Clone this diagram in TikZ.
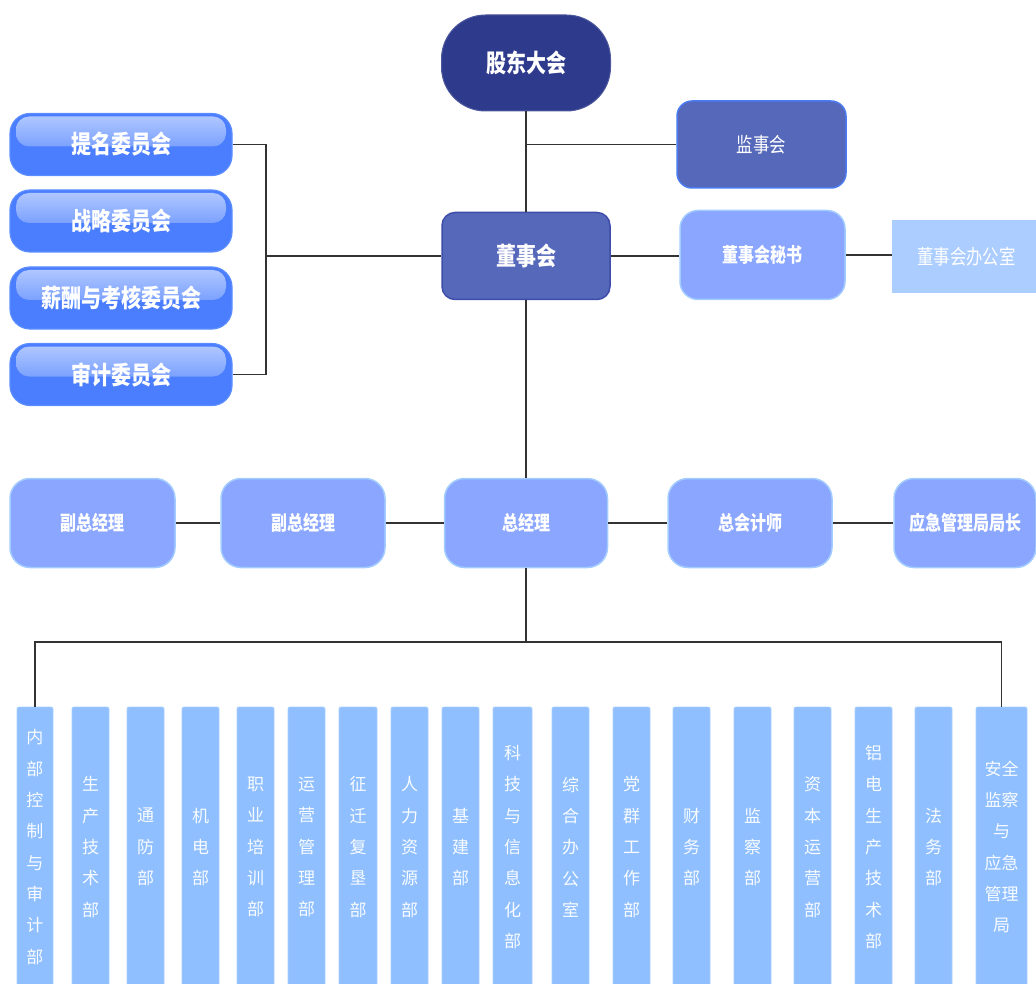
\documentclass[tikz,border=0pt]{standalone}
\usepackage{fontspec}
\newfontfamily\cjk[FakeStretch=0.8]{Noto Sans CJK SC}
\newfontfamily\cjkv{Noto Sans CJK SC}
\definecolor{navy}{HTML}{2E3A8C}
\definecolor{board}{HTML}{5568BA}
\definecolor{boardline}{HTML}{3E4DAA}
\definecolor{supline}{HTML}{4A7BF0}
\definecolor{cmt}{HTML}{4A7EFF}
\definecolor{cmtline}{HTML}{5C8DFF}
\definecolor{glosshi}{HTML}{B4CAFF}
\definecolor{mgr}{HTML}{8AA6FF}
\definecolor{mgrline}{HTML}{A3CCFF}
\definecolor{office}{HTML}{ABCDFF}
\definecolor{dept}{HTML}{8FBFFF}
\definecolor{deptline}{HTML}{A8CFFF}
\definecolor{wire}{HTML}{333333}
\tikzset{
  box/.style = {rectangle, inner sep=0pt, text=white, align=center},
  bigtext/.style = {font=\cjk\bfseries\fontsize{25}{28}\selectfont},
  midtext/.style = {font=\cjk\bfseries\fontsize{20}{24}\selectfont},
  plaintext/.style = {font=\cjk\fontsize{20.5}{24}\selectfont},
  cmtbox/.style = {box, bigtext, fill=cmt, draw=cmtline, line width=1.2pt,
    rounded corners=20pt, minimum width=222pt, minimum height=62pt,
    path picture={\shade[top color=glosshi, bottom color=cmt, rounded corners=13pt]
      ([xshift=6pt,yshift=-3pt]path picture bounding box.north west) rectangle
      ([xshift=-6pt,yshift=-2pt]path picture bounding box.east);}},
  mgrbox/.style = {box, midtext, fill=mgr, draw=mgrline, line width=1.5pt,
    rounded corners=20pt, minimum height=89pt},
  deptbox/.style = {box, fill=dept, draw=deptline, line width=0.8pt,
    rounded corners=2pt, minimum height=280pt, text=white!95!dept,
    font=\cjkv\fontsize{17}{31.3}\selectfont},
  wireline/.style = {draw=wire, line width=1.3pt},
}

\begin{document}
\begin{tikzpicture}[x=1pt, y=-1pt]
    \useasboundingbox (0, 0) rectangle (1036, 984);
    % shareholders, supervisors, board
    \node[box, bigtext, fill=navy, draw=navy!85!white, line width=1pt, rounded corners=44pt,
      minimum width=169pt, minimum height=96pt] (gdh) at (526, 63) {股东大会};
    \node[box, plaintext, fill=board, draw=supline, line width=1.5pt, rounded corners=15pt,
      minimum width=169pt, minimum height=87pt] (jsh) at (761.5, 144.5) {监事会};
    \node[box, bigtext, fill=board, draw=boardline, line width=1.5pt, rounded corners=13pt,
      minimum width=168pt, minimum height=87pt] (dsh) at (526, 256) {董事会};
    \node[box, midtext, fill=mgr, draw=mgrline, line width=1.5pt, rounded corners=18pt,
      minimum width=165pt, minimum height=89pt] (msh) at (762.5, 255) {董事会秘书};
    \node[box, plaintext, fill=office, minimum width=149pt, minimum height=73pt] (bgs) at (966.5, 256.5) {董事会办公室};
    \draw[wireline] (gdh.south) -- (dsh.north);
    \draw[wireline] (jsh.west) -- (jsh.west -| gdh.south);
    \draw[wireline] (dsh.east) -- (dsh.east -| msh.west);
    \draw[wireline] (msh.east) -- (msh.east -| bgs.west);
    % committees
    \node[cmtbox] (tm) at (121, 144.5) {提名委员会};
    \node[cmtbox] (zl) at (121, 221) {战略委员会};
    \node[cmtbox] (xc) at (121, 298) {薪酬与考核委员会};
    \node[cmtbox] (sj) at (121, 374.5) {审计委员会};
    \coordinate (cbus) at (266, 256);
    \draw[wireline] (tm.east) -| (cbus) |- (sj.east);
    \draw[wireline] (cbus) -- (dsh.west);
    % managers
    \node[mgrbox, minimum width=165pt] (fz1) at (92.5, 523) {副总经理};
    \node[mgrbox, minimum width=164pt] (fz2) at (303, 523) {副总经理};
    \node[mgrbox, minimum width=163pt] (zjl) at (526, 523) {总经理};
    \node[mgrbox, minimum width=164pt] (zkj) at (750, 523) {总会计师};
    \node[mgrbox, minimum width=142pt] (yjj) at (965, 523) {应急管理局局长};
    \draw[wireline] (dsh.south) -- (zjl.north);
    \draw[wireline] (fz1.east) -- (fz2.west);
    \draw[wireline] (fz2.east) -- (zjl.west);
    \draw[wireline] (zjl.east) -- (zkj.west);
    \draw[wireline] (zkj.east) -- (yjj.west);
    % departments
    \foreach \xa/\xb/\txt [count=\i] in {
        17/53/{内\\部\\控\\制\\与\\审\\计\\部},
        72/109/{生\\产\\技\\术\\部},
        127/164/{通\\防\\部},
        182/219/{机\\电\\部},
        237/274/{职\\业\\培\\训\\部},
        288/325/{运\\营\\管\\理\\部},
        339/377/{征\\迁\\复\\垦\\部},
        391/428/{人\\力\\资\\源\\部},
        442/479/{基\\建\\部},
        493/532/{科\\技\\与\\信\\息\\化\\部},
        552/589/{综\\合\\办\\公\\室},
        613/650/{党\\群\\工\\作\\部},
        673/710/{财\\务\\部},
        734/771/{监\\察\\部},
        794/831/{资\\本\\运\\营\\部},
        855/892/{铝\\电\\生\\产\\技\\术\\部},
        915/952/{法\\务\\部},
        976/1027/{安全\\监察\\与\\应急\\管理\\局}}
      \node[deptbox, minimum width={(\xb-\xa)*1pt}] (d\i) at ({(\xa+\xb)/2}, 847) {\txt};
    \coordinate (dbus) at (526, 642);
    \draw[wireline] (zjl.south) -- (dbus);
    \draw[wireline] (d1.north) |- (dbus) -| (d18.north);
\end{tikzpicture}
\end{document}
